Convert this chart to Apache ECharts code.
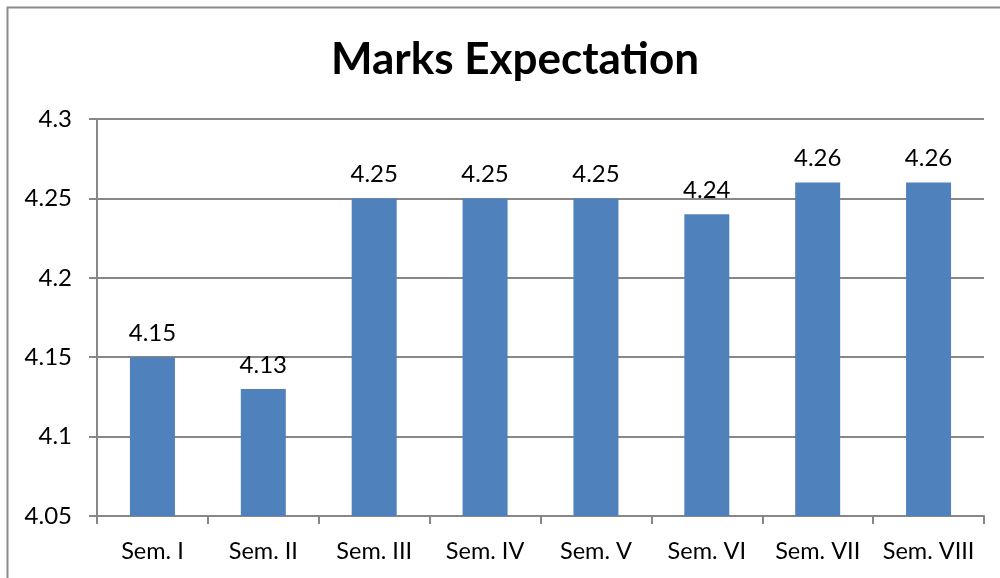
<!DOCTYPE html>
<html>
<head>
<meta charset="utf-8">
<script src="https://cdn.jsdelivr.net/npm/echarts@6/dist/echarts.min.js"></script>
<style>
html, body { margin: 0; padding: 0; background: #fff; }
#chart { width: 1000px; height: 578px; }
</style>
</head>
<body>
<div id="chart"></div>
<script>
// semester names and expected marks
var semesters = ['Sem. I', 'Sem. II', 'Sem. III', 'Sem. IV', 'Sem. V', 'Sem. VI', 'Sem. VII', 'Sem. VIII'];
var marks = [4.15, 4.13, 4.25, 4.25, 4.25, 4.24, 4.26, 4.26];

var font = 'Lato, "Open Sans", sans-serif';
var myChart = echarts.init(document.getElementById('chart'));

var option = {
    animation: false,
    title: {
        text: 'Marks Expectation',
        left: 510,
        textAlign: 'center',
        top: 33,
        textStyle: { fontFamily: font, fontSize: 44, fontWeight: 'bold', color: '#000' }
    },
    graphic: [{
        type: 'rect',
        shape: { x: 7.5, y: 7.5, width: 1200, height: 800 },
        style: { fill: 'none', stroke: '#8c8c8c', lineWidth: 2 }
    }],
    grid: { left: 97, right: 16, top: 119, bottom: 62 },
    xAxis: {
        type: 'category',
        data: semesters,
        axisLine: { lineStyle: { color: '#878787', width: 2 } },
        axisTick: { show: true, interval: 0, length: 8, alignWithLabel: false, lineStyle: { color: '#878787', width: 2 } },
        axisLabel: { interval: 0, hideOverlap: false, fontFamily: font, fontSize: 23.5, color: '#000', margin: 23 }
    },
    yAxis: {
        type: 'value',
        min: 4.05,
        max: 4.3,
        interval: 0.05,
        axisLine: { show: true, lineStyle: { color: '#878787', width: 2 } },
        axisTick: { show: true, length: 8, lineStyle: { color: '#878787', width: 2 } },
        axisLabel: {
            fontFamily: font, fontSize: 24, color: '#000', margin: 25,
            formatter: function (v) { return String(+v.toFixed(2)); }
        },
        splitLine: { lineStyle: { color: '#878787', width: 2 } }
    },
    series: [{
        type: 'bar',
        data: marks,
        barWidth: 45,
        itemStyle: { color: '#4f81bd' },
        label: {
            show: true,
            position: 'top',
            distance: 12,
            fontFamily: font,
            fontSize: 24,
            color: '#000'
        }
    }]
};
myChart.setOption(option);
</script>
</body>
</html>
